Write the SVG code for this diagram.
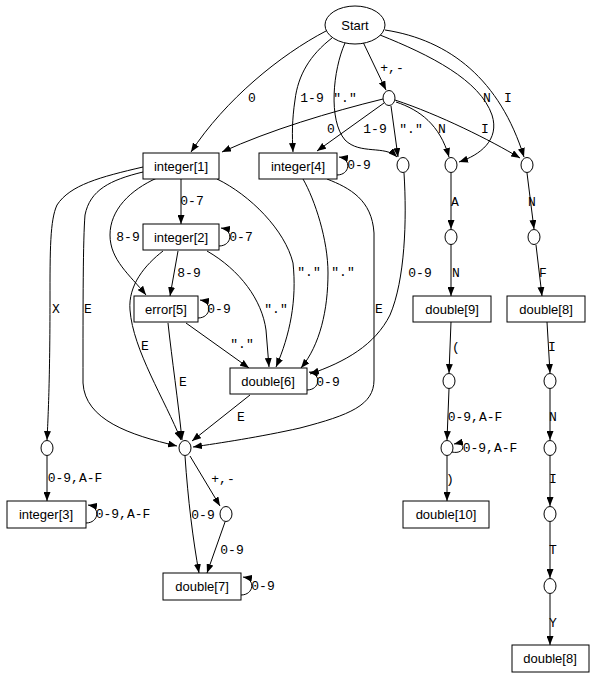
<svg xmlns="http://www.w3.org/2000/svg" width="596" height="679" viewBox="0 0 596 679">
<defs>
<marker id="ah" markerWidth="9" markerHeight="7" refX="9" refY="3.5" orient="auto" markerUnits="userSpaceOnUse"><path d="M0,0 L9,3.5 L0,7 z" fill="#000"/></marker>
<style>
.n rect,.n ellipse{fill:#fff;stroke:#000;stroke-width:1}
.n text{font-family:"Liberation Sans",Arial,sans-serif;font-size:13px;text-anchor:middle}
#edges path{fill:none;stroke:#000;stroke-width:1;marker-end:url(#ah)}
#edges text{font-family:"Liberation Mono","Courier New",monospace;font-size:13px;text-anchor:middle}
</style>
</defs>
<rect width="596" height="679" fill="#fff"/>
<g id="edges">
<path d="M326,31 C280,55 225,100 191,152"/>
<text x="252" y="102">0</text>
<path d="M332,38 C310,55 298,75 295,100 C292,120 292,135 293,152"/>
<text x="312" y="102">1-9</text>
<path d="M345,43 C333,70 328,120 345,140 C360,155 385,145 397,157"/>
<text x="345" y="102">"."</text>
<path d="M363,42 L386,90"/>
<text x="392" y="72">+,-</text>
<path d="M380,35 C430,55 480,80 492,115 C500,140 480,155 459,162"/>
<text x="487" y="102">N</text>
<path d="M385,30 C450,40 500,80 524,157"/>
<text x="508" y="102">I</text>
<path d="M383,99 C330,112 270,130 222,152"/>
<text x="331" y="133">0</text>
<path d="M384,103 L317,151"/>
<text x="375" y="133">1-9</text>
<path d="M391,106 L398,157"/>
<text x="411" y="133">"."</text>
<path d="M396,102 C420,110 440,125 449,157"/>
<text x="442" y="133">N</text>
<path d="M395,100 C440,115 490,140 520,158"/>
<text x="485" y="133">I</text>
<path d="M181,179 L181,224"/>
<text x="192" y="205">0-7</text>
<path d="M219,246 C232,246 234,230 221,228"/>
<text x="241" y="241">0-7</text>
<path d="M143,167 C100,177 70,185 57,205 C50,220 50,250 50,300 C50,380 48,420 47,440"/>
<text x="56" y="313">X</text>
<path d="M143,172 C110,180 90,190 85,215 C83,240 83,300 83,383 C85,420 130,435 177,446"/>
<text x="88" y="313">E</text>
<path d="M157,178 C130,190 110,210 110,235 C110,260 130,275 146,295"/>
<text x="128" y="241">8-9</text>
<path d="M178,251 L170,296"/>
<text x="189" y="277">8-9</text>
<path d="M163,251 C145,265 128,285 130,310 C133,350 165,400 181,440"/>
<text x="145" y="350">E</text>
<path d="M198,318 C211,318 213,302 200,300"/>
<text x="219" y="313">0-9</text>
<path d="M168,323 C172,360 178,400 182,440"/>
<text x="183" y="386">E</text>
<path d="M186,323 L249,368"/>
<text x="242" y="348">"."</text>
<path d="M207,251 C240,270 262,300 266,330 L269,367"/>
<text x="276" y="313">"."</text>
<path d="M217,179 C250,195 285,230 293,263 C297,300 290,335 276,367"/>
<text x="309" y="276">"."</text>
<path d="M303,179 C315,200 328,240 328,273 C328,310 320,345 301,368"/>
<text x="343" y="276">"."</text>
<path d="M337,175 C350,175 352,159 339,157"/>
<text x="359" y="169">0-9</text>
<path d="M327,179 C350,188 372,200 374,233 L374,380 C374,405 350,415 300,428 C260,437 220,443 193,447"/>
<text x="379" y="313">E</text>
<path d="M404,173 C407,220 405,280 390,315 C375,345 345,362 310,374"/>
<text x="420" y="277">0-9</text>
<path d="M307,390 C320,390 322,374 309,372"/>
<text x="328" y="386">0-9</text>
<path d="M250,395 L192,441"/>
<text x="241" y="421">E</text>
<path d="M47,456 L47,501"/>
<text x="75" y="482">0-9,A-F</text>
<path d="M86,523 C99,523 101,507 88,505"/>
<text x="123" y="518">0-9,A-F</text>
<path d="M185,456 C188,500 193,540 199,573"/>
<text x="203" y="519">0-9</text>
<path d="M190,456 L220,506"/>
<text x="223" y="483">+,-</text>
<path d="M225,522 L207,573"/>
<text x="232" y="554">0-9</text>
<path d="M241,595 C254,595 256,579 243,577"/>
<text x="263" y="590">0-9</text>
<path d="M451,173 L451,229"/>
<text x="455" y="206">A</text>
<path d="M451,244 L451,296"/>
<text x="456" y="277">N</text>
<path d="M451,322 L449,373"/>
<text x="456" y="351">(</text>
<path d="M449,389 L447,440"/>
<text x="475" y="421">0-9,A-F</text>
<path d="M452,452 C465,455 467,441 454,444"/>
<text x="490" y="452">0-9,A-F</text>
<path d="M447,456 L447,501"/>
<text x="450" y="483">)</text>
<path d="M527,173 L534,229"/>
<text x="532" y="206">N</text>
<path d="M536,245 L542,296"/>
<text x="543" y="277">F</text>
<path d="M547,322 L550,373"/>
<text x="552" y="351">I</text>
<path d="M550,389 L550,440"/>
<text x="553" y="421">N</text>
<path d="M550,456 L550,506"/>
<text x="553" y="483">I</text>
<path d="M550,522 L550,578"/>
<text x="553" y="554">T</text>
<path d="M550,594 L550,645"/>
<text x="553" y="627">Y</text>
</g>
<g id="start" class="n"><ellipse cx="355" cy="25" rx="30" ry="19"/><text x="355" y="30">Start</text></g>
<g id="sign1" class="n"><ellipse cx="389" cy="98" rx="6" ry="7.5"/></g>
<g id="dot1" class="n"><ellipse cx="403" cy="165" rx="6" ry="7.5"/></g>
<g id="n1" class="n"><ellipse cx="451" cy="165" rx="6" ry="7.5"/></g>
<g id="i1" class="n"><ellipse cx="527" cy="165" rx="6" ry="7.5"/></g>
<g id="integer1" class="n"><rect x="143" y="153" width="76" height="26"/><text x="181" y="171">integer[1]</text></g>
<g id="integer4" class="n"><rect x="259" y="153" width="78" height="26"/><text x="298" y="171">integer[4]</text></g>
<g id="integer2" class="n"><rect x="143" y="224" width="76" height="26"/><text x="181" y="242">integer[2]</text></g>
<g id="error5" class="n"><rect x="134" y="296" width="64" height="26"/><text x="166" y="314">error[5]</text></g>
<g id="double6" class="n"><rect x="230" y="368" width="77" height="26"/><text x="268" y="386">double[6]</text></g>
<g id="x1" class="n"><ellipse cx="47" cy="448" rx="6" ry="7.5"/></g>
<g id="e1" class="n"><ellipse cx="185" cy="448" rx="6" ry="7.5"/></g>
<g id="integer3" class="n"><rect x="7" y="501" width="79" height="27"/><text x="46" y="519">integer[3]</text></g>
<g id="sign2" class="n"><ellipse cx="226" cy="514" rx="6" ry="7.5"/></g>
<g id="double7" class="n"><rect x="163" y="573" width="78" height="27"/><text x="202" y="591">double[7]</text></g>
<g id="a1" class="n"><ellipse cx="451" cy="237" rx="6" ry="7.5"/></g>
<g id="n2" class="n"><ellipse cx="534" cy="237" rx="6" ry="7.5"/></g>
<g id="double9" class="n"><rect x="413" y="296" width="78" height="26"/><text x="452" y="314">double[9]</text></g>
<g id="double8a" class="n"><rect x="507" y="296" width="78" height="26"/><text x="546" y="314">double[8]</text></g>
<g id="paren1" class="n"><ellipse cx="449" cy="381" rx="6" ry="7.5"/></g>
<g id="hex1" class="n"><ellipse cx="447" cy="448" rx="6" ry="7.5"/></g>
<g id="double10" class="n"><rect x="403" y="501" width="86" height="27"/><text x="446" y="519">double[10]</text></g>
<g id="i2" class="n"><ellipse cx="550" cy="381" rx="6" ry="7.5"/></g>
<g id="n3" class="n"><ellipse cx="550" cy="448" rx="6" ry="7.5"/></g>
<g id="i3" class="n"><ellipse cx="550" cy="514" rx="6" ry="7.5"/></g>
<g id="t1" class="n"><ellipse cx="550" cy="586" rx="6" ry="7.5"/></g>
<g id="double8b" class="n"><rect x="512" y="645" width="77" height="27"/><text x="550" y="663">double[8]</text></g>
</svg>
